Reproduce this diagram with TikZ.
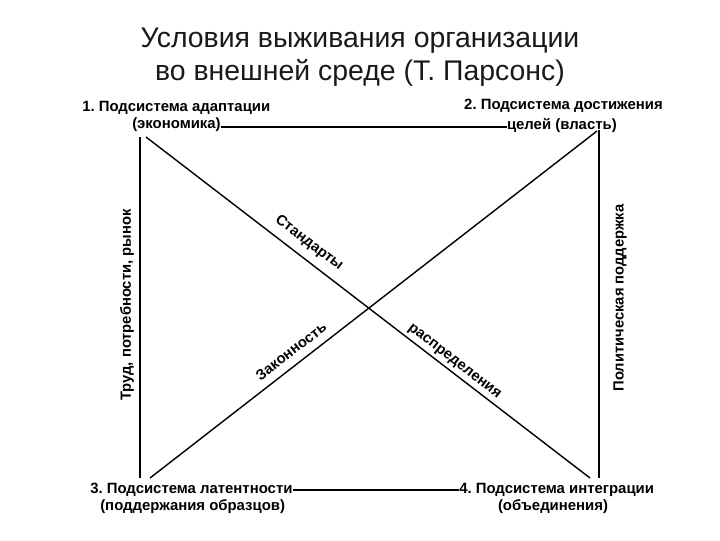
\documentclass[tikz,border=0pt]{standalone}
\usepackage{fontspec}
\setmainfont{Liberation Sans}
\frenchspacing
\begin{document}
\begin{tikzpicture}[x=0.025cm,y=-0.025cm,
  corner/.style={font=\bfseries\fontsize{10.6}{12}\selectfont, inner sep=0pt},
  sidelbl/.style={font=\bfseries\fontsize{10.5}{12}\selectfont, inner sep=0pt},
  diaglbl/.style={font=\bfseries\fontsize{10.5}{12}\selectfont, inner sep=0pt},
  edge/.style={draw=black, line width=1pt}]
\useasboundingbox (0,0) rectangle (720,540);
% title
\node[align=center, font=\fontsize{20.2}{23.2}\selectfont, text=black!90] (title) at (360,57)
  {Условия выживания организации\\во внешней среде (Т. Парсонс)};
% corner labels
\node[corner, anchor=west] (n1a) at (82,108) {1. Подсистема адаптации};
\node[corner, anchor=west] (n1b) at (132,125) {(экономика)};
\node[corner, anchor=east] (n2a) at (663,106) {2. Подсистема достижения};
\node[corner, anchor=east] (n2b) at (617,125) {целей (власть)};
\node[corner, anchor=west] (n3a) at (90,490) {3. Подсистема латентности};
\node[corner, anchor=west] (n3b) at (100,507) {(поддержания образцов)};
\node[corner, anchor=west] (n4a) at (459,490) {4. Подсистема интеграции};
\node[corner] (n4b) at (553,507) {(объединения)};
% corner points of the lines
\coordinate (l1) at (140,137);
\coordinate (l3) at (140,478);
\coordinate (r2) at (599,130);
\coordinate (r4) at (599,478);
\coordinate (d1) at (146,137);
\coordinate (d4) at (590,478);
\coordinate (d2) at (597,131);
\coordinate (d3) at (150,478);
% connectors
\draw[edge] (n1b.east |- 0,127) -- (n2b.west |- 0,127);
\draw[edge] (n3a.east) -- (n4a.west);
\draw[edge] (l1) -- (l3);
\draw[edge] (r2) -- (r4);
\draw[edge] (d1) -- (d4);
\draw[edge] (d2) -- (d3);
% side labels
\node[sidelbl, rotate=90] (s1) at (127,305) {Труд, потребности, рынок};
\node[sidelbl, rotate=90] (s2) at (620,298) {Политическая поддержка};
% diagonal labels
\node[diaglbl, rotate=-37.5] (t1) at (309,243) {Стандарты};
\node[diaglbl, rotate=37.8] (t2) at (291,351) {Законность};
\node[diaglbl, rotate=-37.5] (t3) at (454,362) {распределения};
\end{tikzpicture}
\end{document}
